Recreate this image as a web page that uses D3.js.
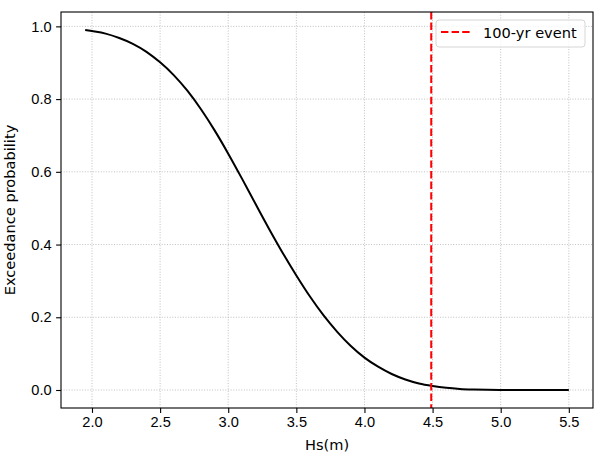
<!DOCTYPE html>
<html lang="en">
<head>
<meta charset="UTF-8">
<title>Exceedance probability</title>
<script src="https://d3js.org/d3.v7.min.js"></script>
<style>
    body { margin: 0; padding: 0; background: #fff; overflow: hidden; }
    svg { font-family: "DejaVu Sans", sans-serif; }
    .grid line { stroke: #b0b0b0; stroke-width: 0.8; stroke-dasharray: 1, 1.65; }
    .axis text { font-size: 14.6px; fill: #000; }
    .axis line { stroke: #000; stroke-width: 1.1; }
    .axis path { display: none; }
</style>
</head>
<body>
<div id="chart"></div>
<script>
    // data
    const hs = [1.95, 2.0, 2.1, 2.2, 2.3, 2.4, 2.5, 2.6, 2.7, 2.8, 2.9, 3.0, 3.1, 3.2, 3.3, 3.4, 3.5,
        3.6, 3.7, 3.8, 3.9, 4.0, 4.1, 4.2, 4.3, 4.4, 4.5, 4.6, 4.7, 4.8, 4.9, 5.0, 5.1, 5.2, 5.3, 5.4, 5.5];
    const exceedance = [0.99, 0.987, 0.980, 0.968, 0.952, 0.930, 0.901, 0.866, 0.823, 0.772, 0.714, 0.650,
        0.582, 0.512, 0.443, 0.377, 0.315, 0.257, 0.205, 0.160, 0.121, 0.089, 0.064, 0.044, 0.029, 0.018,
        0.011, 0.006, 0.003, 0.0015, 0.0007, 0.0003, 0.0001, 0, 0, 0, 0];
    const event100 = 4.49;
    const xTicks = [2.0, 2.5, 3.0, 3.5, 4.0, 4.5, 5.0, 5.5];
    const yTicks = [0.0, 0.2, 0.4, 0.6, 0.8, 1.0];

    const W = 609, H = 464;
    const margin = { top: 12, right: 16, bottom: 56, left: 61 };
    const width = W - margin.left - margin.right;
    const height = H - margin.top - margin.bottom;

    const svg = d3.select("#chart").append("svg")
        .attr("width", W)
        .attr("height", H);

    const g = svg.append("g")
        .attr("transform", `translate(${margin.left},${margin.top})`);

    // matplotlib style 5% margins
    const xPad = (d3.max(hs) - d3.min(hs)) * 0.05;
    const yPad = (d3.max(exceedance) - d3.min(exceedance)) * 0.05;
    const x = d3.scaleLinear()
        .domain([d3.min(hs) - xPad, d3.max(hs) + xPad])
        .range([0, width]);
    const y = d3.scaleLinear()
        .domain([d3.min(exceedance) - yPad, d3.max(exceedance) + yPad])
        .range([height, 0]);

    // grid
    g.append("g").attr("class", "grid")
        .selectAll("line").data(xTicks).enter().append("line")
        .attr("x1", d => x(d)).attr("x2", d => x(d))
        .attr("y1", 0).attr("y2", height);
    g.append("g").attr("class", "grid")
        .selectAll("line").data(yTicks).enter().append("line")
        .attr("y1", d => y(d)).attr("y2", d => y(d))
        .attr("x1", 0).attr("x2", width);

    // curve
    const line = d3.line()
        .x((d, i) => x(hs[i]))
        .y(d => y(d))
        .curve(d3.curveMonotoneX);
    g.append("path")
        .datum(exceedance)
        .attr("fill", "none")
        .attr("stroke", "#000")
        .attr("stroke-width", 2)
        .attr("d", line);

    // 100-yr event
    g.append("line")
        .attr("x1", x(event100)).attr("x2", x(event100))
        .attr("y1", 0).attr("y2", height)
        .attr("stroke", "#ff0000")
        .attr("stroke-width", 2)
        .attr("stroke-dasharray", "7.4,3.2");

    // axes
    g.append("g").attr("class", "axis")
        .attr("transform", `translate(0,${height})`)
        .call(d3.axisBottom(x).tickValues(xTicks).tickFormat(d3.format(".1f")).tickSize(4.9).tickPadding(4));
    g.append("g").attr("class", "axis")
        .call(d3.axisLeft(y).tickValues(yTicks).tickFormat(d3.format(".1f")).tickSize(4.9).tickPadding(4.5));

    // frame
    g.append("rect")
        .attr("width", width).attr("height", height)
        .attr("fill", "none")
        .attr("stroke", "#000")
        .attr("stroke-width", 1.1);

    // axis labels
    svg.append("text")
        .attr("x", margin.left + width / 2)
        .attr("y", 450)
        .attr("text-anchor", "middle")
        .attr("font-size", "14.6px")
        .text("Hs(m)");
    svg.append("text")
        .attr("transform", `translate(15,${margin.top + height / 2}) rotate(-90)`)
        .attr("text-anchor", "middle")
        .attr("font-size", "14.6px")
        .text("Exceedance probability");

    // legend
    const lg = g.append("g").attr("transform", `translate(${width - 157},8)`);
    lg.append("rect")
        .attr("width", 149).attr("height", 27)
        .attr("rx", 3)
        .attr("fill", "#fff").attr("fill-opacity", 0.8)
        .attr("stroke", "#d6d6d6");
    lg.append("line")
        .attr("x1", 5).attr("x2", 36)
        .attr("y1", 12).attr("y2", 12)
        .attr("stroke", "#ff0000")
        .attr("stroke-width", 2)
        .attr("stroke-dasharray", "7.4,3.2");
    lg.append("text")
        .attr("x", 47).attr("y", 17.5)
        .attr("font-size", "14.6px")
        .attr("fill", "#000")
        .text("100-yr event");
</script>
</body>
</html>
